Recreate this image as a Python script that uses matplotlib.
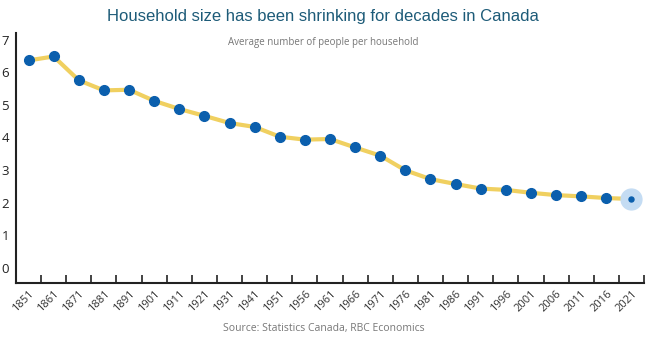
import matplotlib
matplotlib.use("Agg")
import matplotlib.pyplot as plt

years = ["1851", "1861", "1871", "1881", "1891", "1901", "1911", "1921", "1931",
         "1941", "1951", "1956", "1961", "1966", "1971", "1976", "1981", "1986",
         "1991", "1996", "2001", "2006", "2011", "2016", "2021"]
household_size = [6.36, 6.48, 5.75, 5.44, 5.46, 5.12, 4.87, 4.66, 4.44,
                  4.32, 4.02, 3.93, 3.95, 3.69, 3.44, 2.99, 2.72, 2.57,
                  2.43, 2.39, 2.30, 2.23, 2.19, 2.14, 2.11]

plt.rcParams['font.family'] = ['Open Sans', 'DejaVu Sans']

fig = plt.figure(figsize=(6.6, 3.44), dpi=100)
ax = fig.add_axes([16 / 660, 1 - 282.5 / 344, 628 / 660, 249.5 / 344])

x = list(range(len(years)))
ax.plot(x, household_size, color='#f0d060', linewidth=3, zorder=2,
        solid_capstyle='round', solid_joinstyle='round')
ax.plot(x[:-1], household_size[:-1], 'o', color='#0b5fad', markersize=7, zorder=3)

# latest value highlighted
ax.plot(x[-1], household_size[-1], 'o', color='#c4dcf3', markersize=15, zorder=3)
ax.plot(x[-1], household_size[-1], 'o', color='#0b5fad', markersize=3.6, zorder=4)

ax.set_xlim(-0.5, len(years) - 0.5)
ax.set_ylim(-0.45, 7.2)

ax.set_yticks(range(0, 8))
ax.tick_params(axis='y', length=0, pad=5, labelsize=9.5, labelcolor='#222222')

ax.set_xticks([i - 0.5 for i in range(len(years) + 1)], minor=False)
ax.set_xticklabels([])
ax.set_xticks(x, minor=True)
ax.set_xticklabels(years, minor=True, rotation=45, ha='right',
                   rotation_mode='anchor', fontsize=8, color='#333333')
ax.tick_params(axis='x', which='major', direction='in', length=6, width=1.2,
               color='#222222')
ax.tick_params(axis='x', which='minor', length=0, pad=4)

for side in ['top', 'right']:
    ax.spines[side].set_visible(False)
for side in ['left', 'bottom']:
    ax.spines[side].set_linewidth(1.5)
    ax.spines[side].set_color('#222222')

fig.text(0.49, 1 - 16 / 344, "Household size has been shrinking for decades in Canada",
         ha='center', va='center', fontsize=12, color='#1d5b78',
         family=['Liberation Sans', 'DejaVu Sans'])
fig.text(0.49, 1 - 43 / 344, "Average number of people per household",
         ha='center', va='center', fontsize=7, color='#777777')
fig.text(0.49, 1 - 329 / 344, "Source: Statistics Canada, RBC Economics",
         ha='center', va='center', fontsize=7.5, color='#777777')

fig.savefig("out.png", dpi=100)
